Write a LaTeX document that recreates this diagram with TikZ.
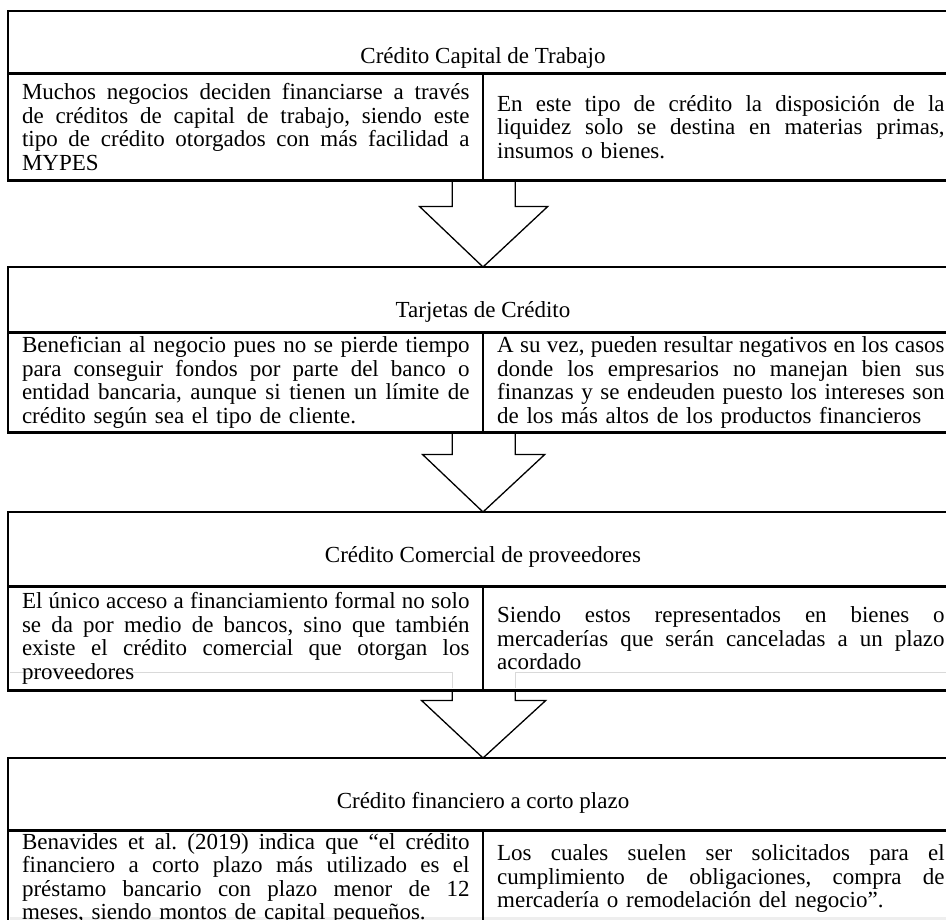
\documentclass[tikz,border=0pt]{standalone}
\usepackage{fontspec}
\setmainfont{Liberation Serif}
\usetikzlibrary{calc}
\newcommand\fullline[1]{\makebox[447.5pt][s]{\spaceskip=0.25em plus 10em minus 0.1em\xspaceskip=\spaceskip\relax#1}}

\begin{document}
\begin{tikzpicture}[x=1pt, y=1pt,
  titlerow/.style={draw, line width=1.3pt, inner sep=0pt, minimum width=949pt, anchor=north, font=\fontsize{23pt}{23.5pt}\selectfont},
  cell/.style={draw, line width=1.3pt, inner sep=0pt, minimum width=474.5pt, text width=447.5pt, align=left, anchor=north west, font=\fontsize{23pt}{23.5pt}\selectfont\frenchspacing},
  outerframe/.style={draw, line width=2pt},
  blockarrow/.style={draw, line width=1.3pt, line join=miter},
  ghost/.style={draw=gray!30, line width=1pt}]
\useasboundingbox (0,0) rectangle (946,920);

% Ghost lines
\fill[gray!13] (10,0) rectangle (957,3);
\draw[ghost] (10,247) -- (452,247) -- (452,232);
\draw[ghost] (515,232) -- (515,247) -- (957,247);

% Capital de trabajo
\node[titlerow, text height=52pt, text depth=9pt] (t1) at (483,909) {Crédito Capital de Trabajo};
\node[cell, minimum height=106pt] (l1) at (t1.south west) {\fullline{Muchos negocios deciden financiarse a través}\\
\fullline{de créditos de capital de trabajo, siendo este}\\
\fullline{tipo de crédito otorgados con más facilidad a}\\
MYPES};
\node[cell, minimum height=106pt] (r1) at (t1.south) {\fullline{En este tipo de crédito la disposición de la}\\
\fullline{liquidez solo se destina en materias primas,}\\
insumos o bienes.};
\draw[outerframe] (t1.north west) rectangle (r1.south east);

% Tarjetas
\node[titlerow, text height=50pt, text depth=14pt] (t2) at (483,653) {Tarjetas de Crédito};
\node[cell, minimum height=99pt] (l2) at (t2.south west) {\fullline{Benefician al negocio pues no se pierde tiempo}\\
\fullline{para conseguir fondos por parte del banco o}\\
\fullline{entidad bancaria, aunque si tienen un límite de}\\
crédito según sea el tipo de cliente.};
\node[cell, minimum height=99pt] (r2) at (t2.south) {\fullline{A su vez, pueden resultar negativos en los casos}\\
\fullline{donde los empresarios no manejan bien sus}\\
\fullline{finanzas y se endeuden puesto los intereses son}\\
de los más altos de los productos financieros};
\draw[outerframe] (t2.north west) rectangle (r2.south east);

% Comercial
\node[titlerow, text height=50pt, text depth=23pt] (t3) at (483,408) {Crédito Comercial de proveedores};
\node[cell, minimum height=103pt] (l3) at (t3.south west) {\fullline{El único acceso a financiamiento formal no solo}\\
\fullline{se da por medio de bancos, sino que también}\\
\fullline{existe el crédito comercial que otorgan los}\\
proveedores};
\node[cell, minimum height=103pt] (r3) at (t3.south) {\fullline{Siendo estos representados en bienes o}\\
\fullline{mercaderías que serán canceladas a un plazo}\\
acordado};
\draw[outerframe] (t3.north west) rectangle (r3.south east);

% Financiero
\node[titlerow, text height=50pt, text depth=21pt] (t4) at (483,162) {Crédito financiero a corto plazo};
\node[cell, minimum height=96pt] (l4) at (t4.south west) {\fullline{Benavides et al. (2019) indica que “el crédito}\\
\fullline{financiero a corto plazo más utilizado es el}\\
\fullline{préstamo bancario con plazo menor de 12}\\
meses, siendo montos de capital pequeños.};
\node[cell, minimum height=96pt] (r4) at (t4.south) {\fullline{Los cuales suelen ser solicitados para el}\\
\fullline{cumplimiento de obligaciones, compra de}\\
mercadería o remodelación del negocio”.};
\draw[outerframe] (t4.north west) rectangle (r4.south east);

% Arrows
\coordinate (k1) at ($(l1.south east)+(0,-26)$);
\draw[blockarrow] ($(l1.south east)+(-31.5,0)$) -- ($(k1)+(-31.5,0)$) -- ($(k1)+(-64,0)$) -- (t2.north) -- ($(k1)+(64,0)$) -- ($(k1)+(31.5,0)$) -- ($(l1.south east)+(31.5,0)$);
\coordinate (k2) at ($(l2.south east)+(0,-22)$);
\draw[blockarrow] ($(l2.south east)+(-31.5,0)$) -- ($(k2)+(-31.5,0)$) -- ($(k2)+(-61,0)$) -- (t3.north) -- ($(k2)+(61,0)$) -- ($(k2)+(31.5,0)$) -- ($(l2.south east)+(31.5,0)$);
\coordinate (k3) at ($(l3.south east)+(0,-10)$);
\draw[blockarrow] ($(l3.south east)+(-31.5,0)$) -- ($(k3)+(-31.5,0)$) -- ($(k3)+(-62,0)$) -- (t4.north) -- ($(k3)+(62,0)$) -- ($(k3)+(31.5,0)$) -- ($(l3.south east)+(31.5,0)$);
\end{tikzpicture}
\end{document}
